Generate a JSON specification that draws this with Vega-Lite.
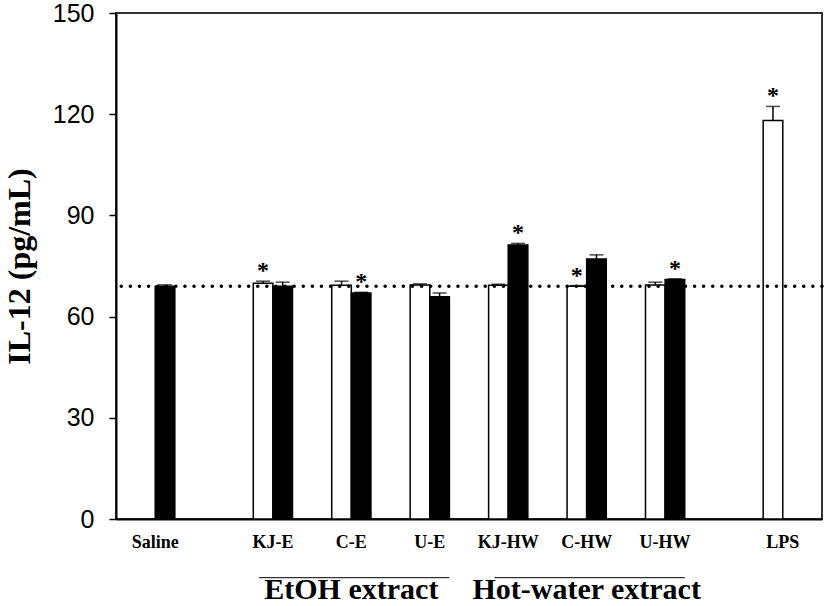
{
  "$schema": "https://vega.github.io/schema/vega-lite/v6.json",
  "width": 706,
  "height": 506,
  "autosize": "none",
  "padding": {"left": 116, "top": 13, "right": 5, "bottom": 87},
  "background": "white",
  "config": {
    "view": {"stroke": "#333", "strokeWidth": 2},
    "axis": {"grid": false}
  },
  "datasets": {
    "bars": [
      {"treatment": "Saline", "series": "S2", "value": 69.0, "err": 0.4, "sig": false},
      {"treatment": "KJ-E", "series": "S1", "value": 69.9, "err": 0.6, "sig": true},
      {"treatment": "KJ-E", "series": "S2", "value": 69.0, "err": 1.2, "sig": false},
      {"treatment": "C-E", "series": "S1", "value": 69.3, "err": 1.2, "sig": false},
      {"treatment": "C-E", "series": "S2", "value": 67.0, "err": 0.2, "sig": true},
      {"treatment": "U-E", "series": "S1", "value": 69.4, "err": 0.3, "sig": false},
      {"treatment": "U-E", "series": "S2", "value": 65.9, "err": 1.1, "sig": false},
      {"treatment": "KJ-HW", "series": "S1", "value": 69.3, "err": 0.3, "sig": false},
      {"treatment": "KJ-HW", "series": "S2", "value": 81.2, "err": 0.5, "sig": true},
      {"treatment": "C-HW", "series": "S1", "value": 69.0, "err": 0.2, "sig": true},
      {"treatment": "C-HW", "series": "S2", "value": 77.1, "err": 1.2, "sig": false},
      {"treatment": "U-HW", "series": "S1", "value": 69.4, "err": 0.8, "sig": false},
      {"treatment": "U-HW", "series": "S2", "value": 71.0, "err": 0.2, "sig": true},
      {"treatment": "LPS", "series": "S1", "value": 118.1, "err": 4.2, "sig": true}
    ],
    "groups": [
      {"label": "EtOH extract", "from": "KJ-E", "to": "U-E", "mid": "C-E"},
      {"label": "Hot-water extract", "from": "KJ-HW", "to": "U-HW", "mid": "C-HW"}
    ],
    "reference": [
      {"level": 69}
    ]
  },
  "layer": [
    {
      "data": {"name": "bars"},
      "mark": {"type": "bar", "stroke": "black", "strokeWidth": 1.5},
      "encoding": {
        "x": {
          "field": "treatment",
          "type": "nominal",
          "scale": {
            "domain": ["Saline", "_a", "_b", "KJ-E", "_c", "C-E", "_d", "U-E", "_e", "KJ-HW", "_f", "C-HW", "_g", "U-HW", "_h", "_i", "LPS"],
            "paddingInner": 0,
            "paddingOuter": 0.5
          },
          "axis": {
            "title": null,
            "labelExpr": "indexof(datum.label, '_') == 0 ? '' : datum.label",
            "labelAngle": 0,
            "ticks": false,
            "labelFont": "Liberation Serif",
            "labelFontWeight": "bold",
            "labelFontSize": 18,
            "labelColor": "black",
            "labelPadding": 14,
            "domainColor": "black",
            "domainWidth": 2
          }
        },
        "xOffset": {
          "field": "series",
          "type": "nominal",
          "scale": {"domain": ["S1", "S2"], "paddingInner": 0, "paddingOuter": 0}
        },
        "y": {
          "field": "value",
          "type": "quantitative",
          "scale": {"domain": [0, 150], "nice": false},
          "axis": {
            "title": "IL-12 (pg/mL)",
            "values": [0, 30, 60, 90, 120, 150],
            "titleFont": "Liberation Serif",
            "titleFontWeight": "bold",
            "titleFontSize": 32,
            "titleColor": "black",
            "titlePadding": 16,
            "labelFont": "Liberation Sans",
            "labelFontSize": 25,
            "labelColor": "black",
            "labelPadding": 15,
            "tickSize": 7,
            "tickColor": "black",
            "tickWidth": 1.5,
            "domainColor": "black",
            "domainWidth": 2
          }
        },
        "fill": {
          "field": "series",
          "type": "nominal",
          "scale": {"domain": ["S1", "S2"], "range": ["white", "black"]},
          "legend": null
        }
      }
    },
    {
      "data": {"name": "bars"},
      "transform": [{"calculate": "datum.value + datum.err", "as": "upper"}],
      "mark": {"type": "rule", "color": "black", "strokeWidth": 1.5},
      "encoding": {
        "x": {"field": "treatment", "type": "nominal"},
        "xOffset": {"field": "series", "type": "nominal"},
        "y": {"field": "value", "type": "quantitative"},
        "y2": {"field": "upper"}
      }
    },
    {
      "data": {"name": "bars"},
      "transform": [{"calculate": "datum.value + datum.err", "as": "upper"}],
      "mark": {"type": "tick", "color": "black", "thickness": 1.5, "size": 14, "orient": "horizontal"},
      "encoding": {
        "x": {"field": "treatment", "type": "nominal"},
        "xOffset": {"field": "series", "type": "nominal"},
        "y": {"field": "upper", "type": "quantitative"}
      }
    },
    {
      "data": {"name": "bars"},
      "transform": [
        {"filter": "datum.sig"},
        {"calculate": "datum.value + datum.err", "as": "upper"}
      ],
      "mark": {"type": "text", "text": "*", "font": "Liberation Serif", "fontWeight": "bold", "fontSize": 24, "baseline": "alphabetic", "dy": -3, "color": "black"},
      "encoding": {
        "x": {"field": "treatment", "type": "nominal"},
        "xOffset": {"field": "series", "type": "nominal"},
        "y": {"field": "upper", "type": "quantitative"}
      }
    },
    {
      "data": {"name": "reference"},
      "mark": {"type": "rule", "strokeDash": [0.1, 9], "strokeCap": "round", "strokeWidth": 3.5, "color": "black"},
      "encoding": {"y": {"field": "level", "type": "quantitative"}}
    },
    {
      "data": {"name": "groups"},
      "mark": {"type": "rule", "color": "black", "strokeWidth": 1},
      "encoding": {
        "x": {"field": "from", "type": "nominal", "bandPosition": 0.15},
        "x2": {"field": "to", "bandPosition": 1},
        "y": {"datum": -17.4}
      }
    },
    {
      "data": {"name": "groups"},
      "mark": {"type": "text", "font": "Liberation Serif", "fontWeight": "bold", "fontSize": 30, "baseline": "alphabetic", "color": "black"},
      "encoding": {
        "x": {"field": "mid", "type": "nominal"},
        "y": {"datum": -23.8},
        "text": {"field": "label"}
      }
    }
  ]
}
